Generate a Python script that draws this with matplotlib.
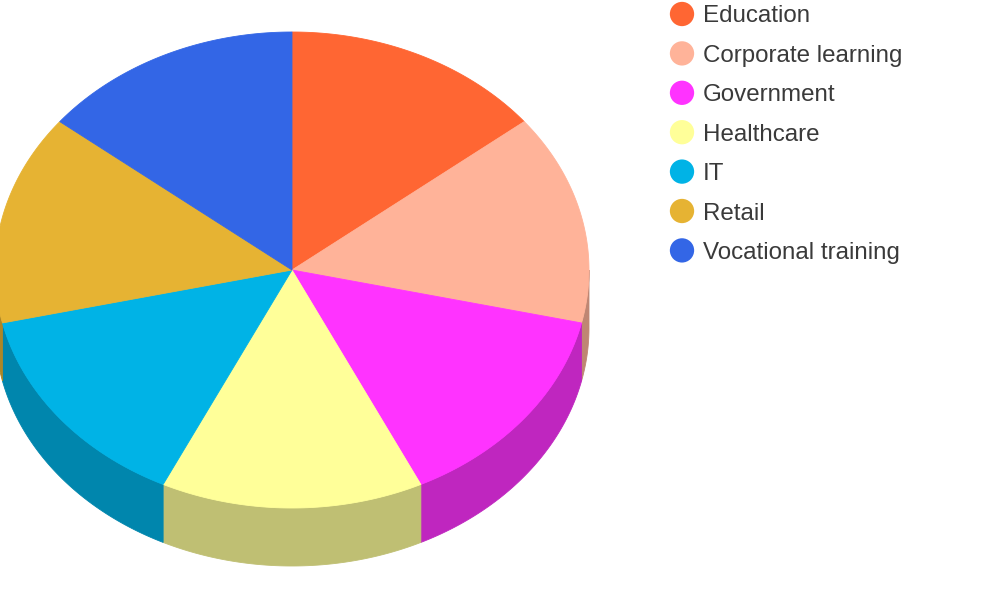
import numpy as np
import matplotlib
matplotlib.use("Agg")
import matplotlib.pyplot as plt
from matplotlib.patches import Polygon
from matplotlib.colors import to_rgb

categories = ["Education", "Corporate learning", "Government", "Healthcare",
              "IT", "Retail", "Vocational training"]
values = [1, 1, 1, 1, 1, 1, 1]
colors = ["#FF6633", "#FFB399", "#FF33FF", "#FFFF99", "#00B3E6", "#E6B333", "#3366E6"]

W, H = 1000, 600
fig = plt.figure(figsize=(W / 100, H / 100), dpi=100)
ax = fig.add_axes([0, 0, 1, 1])
ax.set_xlim(0, W)
ax.set_ylim(H, 0)
ax.axis("off")

cx, cy, rx, ry, depth = 292, 270, 297, 238, 58


def arc(a0, a1, n=200, dy=0.0):
    t = np.radians(np.linspace(a0, a1, n))
    return np.column_stack([cx + rx * np.cos(t), cy - ry * np.sin(t) + dy])


def darker(c, f=0.75):
    r, g, b = to_rgb(c)
    return (r * f, g * f, b * f)


total = float(sum(values))
starts = []
a = 90.0
for v in values:
    span = v / total * 360.0
    starts.append((a, a - span))
    a -= span

# side walls (front half only)
for (a0, a1), c in zip(starts, colors):
    for k in range(-2, 3):
        lo, hi = -180 + 360 * k, 0 + 360 * k
        s_hi = min(a0, hi)
        s_lo = max(a1, lo)
        if s_hi - s_lo > 1e-6:
            top = arc(s_hi, s_lo)
            bot = arc(s_lo, s_hi, dy=depth)
            pts = np.vstack([top, bot])
            ax.add_patch(Polygon(pts, closed=True, facecolor=darker(c),
                                 edgecolor=darker(c), linewidth=0.6))

# top faces
for (a0, a1), c in zip(starts, colors):
    pts = np.vstack([[cx, cy], arc(a0, a1)])
    ax.add_patch(Polygon(pts, closed=True, facecolor=c, edgecolor=c, linewidth=0.6))

# legend
lx, ly0, dy = 682, 14, 39.4
for i, (lab, c) in enumerate(zip(categories, colors)):
    y = ly0 + i * dy
    ax.scatter([lx], [y], s=17.5 ** 2, color=c, edgecolors="none", zorder=5)
    ax.text(lx + 21, y, lab, fontsize=17.4, family="Liberation Sans",
            color="#3a3a3a", va="center_baseline", ha="left")

fig.savefig("out.png", dpi=100)
